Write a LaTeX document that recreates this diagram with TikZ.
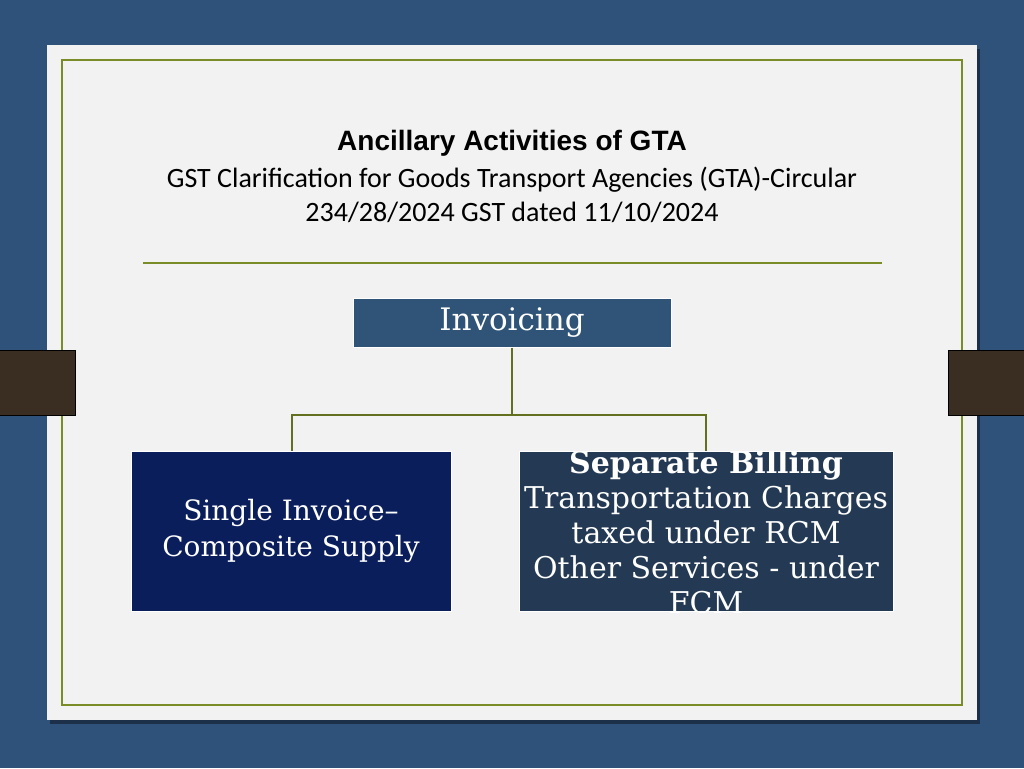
\documentclass[tikz,border=0pt]{standalone}
\usepackage{fontspec}
\setmainfont{DejaVu Serif}
\newfontfamily\titlefont{Liberation Sans}
\newfontfamily\subfont{Carlito}
\usetikzlibrary{positioning}
\definecolor{slidebg}{RGB}{47,82,122}
\definecolor{cardbg}{RGB}{242,242,242}
\definecolor{olive}{RGB}{122,140,40}
\definecolor{tabbrown}{RGB}{58,46,34}
\definecolor{topbox}{RGB}{47,84,120}
\definecolor{navybox}{RGB}{10,30,92}
\definecolor{slatebox}{RGB}{36,58,84}
\tikzset{
  box/.style={draw=white, line width=1pt, text=white, align=center, inner sep=0pt},
  link/.style={olive!80!black, line width=1.2pt}
}
\begin{document}
\begin{tikzpicture}[x=1pt,y=-1pt]
  \fill[slidebg] (0,0) rectangle (1024,768);
  \useasboundingbox (0,0) rectangle (1024,768);
  \fill[slidebg!60!black] (50,49) rectangle (980,724);
  \fill[cardbg] (47,45) rectangle (977,720);
  \draw[olive, line width=1.2pt] (62,60) rectangle (962,705);
  \draw[black, fill=tabbrown, line width=1pt] (-2,350) rectangle (75,415);
  \draw[black, fill=tabbrown, line width=1pt] (948,350) rectangle (1026,415);

  % Titel
  \node[font=\titlefont\fontsize{28}{32}\selectfont\bfseries] (title) at (512,143) {Ancillary Activities of GTA};
  \node[align=center, font=\subfont\fontsize{28}{34}\selectfont] (sub) at (512,195) {GST Clarification for Goods Transport Agencies (GTA)-Circular\\234/28/2024 GST dated 11/10/2024};
  \draw[olive, line width=1.2pt] (143,263) -- (882,263);

  % Kästen
  \node[box, fill=topbox, minimum width=318, minimum height=49, font=\fontsize{31}{36}\selectfont] (inv) at (512,322.5) {Invoicing};
  \node[box, fill=navybox, minimum width=320, minimum height=160, font=\fontsize{28}{36}\selectfont] (single) at (291,531) {Single Invoice–\\Composite Supply};
  \node[box, fill=slatebox, minimum width=374, minimum height=160] (sep) at (706,531) {};
  \begin{scope}
    \clip (475,452) rectangle (940,612);
    \node[text=white, align=center, font=\fontsize{30}{35}\selectfont] at (706,532) {\textbf{Separate Billing}\\Transportation Charges\\taxed under RCM\\Other Services - under\\FCM};
  \end{scope}

  \coordinate (fork) at (512,415);
  \draw[link] (inv.south) -- (fork);
  \draw[link] (single.north -| 292,0) |- (fork) -| (sep.north);
\end{tikzpicture}
\end{document}
